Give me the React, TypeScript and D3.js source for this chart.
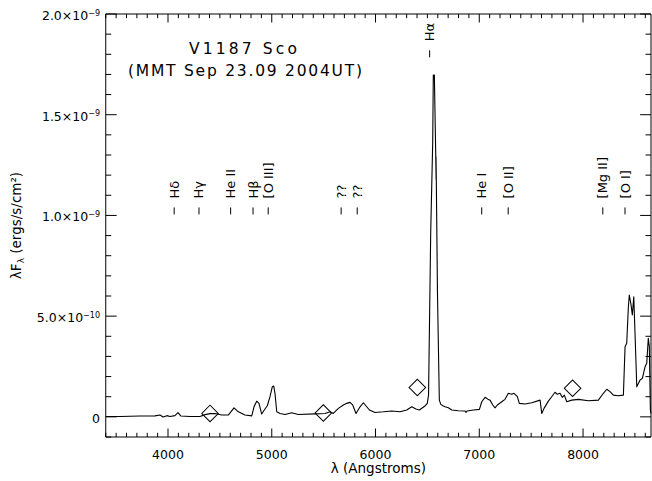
import React from 'react';
import * as d3 from 'd3';

// Spectrum: [wavelength (Angstrom), lambda*F_lambda in units of 1e-10 ergs/s/cm^2]
const SPECTRUM: [number, number][] = [
  [3400, 0.02], [3540, 0.015], [3730, 0.04], [3875, 0.05], [3923, 0.09], [3952, -0.01],
  [3990, 0.06], [4019, 0.015], [4067, 0.06], [4096, 0.21], [4125, 0.04], [4212, 0.015],
  [4308, 0.02], [4357, 0.11], [4405, 0.16], [4453, 0.17], [4518, 0.09], [4581, 0.09],
  [4636, 0.45], [4678, 0.25], [4742, 0.09], [4807, 0.05], [4829, 0.5], [4855, 0.78],
  [4877, 0.67], [4903, 0.14], [4928, 0.34], [4957, 0.55], [4983, 1.0], [5005, 1.49],
  [5019, 1.53], [5031, 1.17], [5048, 0.25], [5080, 0.17], [5128, 0.12], [5192, 0.2],
  [5256, 0.12], [5415, 0.15], [5513, 0.17], [5562, 0.25], [5593, 0.17], [5642, 0.42],
  [5690, 0.59], [5723, 0.67], [5754, 0.72], [5780, 0.59], [5812, 0.17], [5851, 0.5],
  [5883, 0.7], [5909, 0.54], [5941, 0.34], [5995, 0.22], [6075, 0.25], [6156, 0.29],
  [6236, 0.25], [6301, 0.34], [6349, 0.5], [6390, 0.39], [6422, 0.34], [6477, 0.54],
  [6499, 0.67], [6511, 1.08], [6532, 9.19], [6551, 13.6], [6557, 16.97], [6567, 16.97],
  [6580, 13.1], [6584, 11.8], [6583, 12.9], [6586, 11.7], [6597, 6.15], [6615, 0.83],
  [6629, 0.62], [6654, 0.54], [6670, 0.5], [6702, 0.45], [6735, 0.34], [6798, 0.3],
  [6863, 0.29], [6872, 0.22], [6882, 0.29], [6943, 0.34], [7001, 0.37], [7024, 0.75],
  [7056, 0.97], [7082, 0.88], [7104, 0.83], [7130, 0.59], [7152, 0.45], [7174, 0.59],
  [7217, 0.75], [7248, 0.87], [7280, 1.17], [7313, 1.12], [7335, 1.17], [7367, 1.0],
  [7386, 0.67], [7441, 0.64], [7506, 0.7], [7586, 0.83], [7602, 0.17], [7624, 0.42],
  [7666, 0.78], [7698, 1.0], [7730, 1.22], [7752, 1.12], [7778, 1.17], [7800, 0.97],
  [7820, 1.08], [7843, 0.75], [7891, 0.83], [7955, 0.87], [8051, 0.8], [8148, 0.83],
  [8196, 1.17], [8229, 1.37], [8260, 1.25], [8292, 1.08], [8340, 1.05], [8389, 1.08],
  [8405, 3.48], [8421, 3.65], [8437, 5.47], [8446, 6.05], [8463, 5.55], [8475, 5.06],
  [8489, 5.96], [8501, 4.15], [8518, 1.49], [8550, 1.83], [8572, 1.91], [8598, 2.49],
  [8614, 2.66], [8629, 3.9], [8639, 3.48], [8649, 0.34], [8655, 0.17],
];

// Photometry diamonds
const PHOT_WAVE = [4405, 5497, 6403, 7899];
const PHOT_FLUX = [0.17, 0.19, 1.46, 1.42]; // 1e-10

// Line identifications
const LINE_NAMES = ['Hδ', 'Hγ', 'He II', 'Hβ', '[O III]', '??', '??', 'Hα', 'He I', '[O II]', '[Mg II]', '[O I]'];
const LINE_WAVES = [4101, 4340, 4645, 4861, 5007, 5710, 5865, 6563, 7065, 7320, 8232, 8446];
const LINE_LEVEL = [1.0e-9, 1.0e-9, 1.0e-9, 1.0e-9, 1.0e-9, 1.0e-9, 1.0e-9, 1.78e-9, 1.0e-9, 1.0e-9, 1.0e-9, 1.0e-9];

const X_MAJOR = [4000, 5000, 6000, 7000, 8000];
const X_LABELS = ['4000', '5000', '6000', '7000', '8000'];
const Y_MAJOR = [0, 5e-10, 1e-9, 1.5e-9, 2e-9];
const Y_MANT = ['0', '5.0×10', '1.0×10', '1.5×10', '2.0×10'];
const Y_EXP = ['', '−10', '−9', '−9', '−9'];

const TITLE_1 = 'V1187 Sco';
const TITLE_2 = '(MMT Sep 23.09 2004UT)';

export default function App() {
  const W = 652, H = 481;
  const left = 105.75, right = 651, top = 14, bottom = 437;
  const x = d3.scaleLinear().domain([3400, 8655]).range([left, right]);
  const y = d3.scaleLinear().domain([-1e-10, 2e-9]).range([bottom, top]);
  const line = d3.line<[number, number]>().x(d => x(d[0])).y(d => y(d[1] * 1e-10));
  const xMinor = d3.range(3400, 8656, 100).filter(v => v % 1000 !== 0);
  const yMinor = d3.range(-1, 21, 1).map(v => v * 1e-10).filter((v, i) => (i - 1) % 5 !== 0);
  const diamond = d3.symbol().type(d3.symbolSquare).size(137)();
  const font = 'DejaVu Sans, sans-serif';
  const xMaj = 8.5, xMin = 4.2, yMaj = 10.9, yMin = 5.5;

  return (
    <svg width={W} height={H} style={{ position: 'absolute', left: 0, top: 0, background: '#fff' }} fontFamily={font}>
      <rect x={0} y={0} width={W} height={H} fill="#fff" />
      {/* frame */}
      <g stroke="#000" strokeWidth={1} fill="none">
        <line x1={left} x2={right} y1={top} y2={top} />
        <line x1={left} x2={right} y1={bottom} y2={bottom} />
        <line x1={left} x2={left} y1={top} y2={bottom} />
        <line x1={right} x2={right} y1={top} y2={bottom} />
        {X_MAJOR.map(v => (
          <g key={'xm' + v}>
            <line x1={x(v)} x2={x(v)} y1={bottom} y2={bottom - xMaj} />
            <line x1={x(v)} x2={x(v)} y1={top} y2={top + xMaj} />
          </g>
        ))}
        {xMinor.map(v => (
          <g key={'xn' + v}>
            <line x1={x(v)} x2={x(v)} y1={bottom} y2={bottom - xMin} />
            <line x1={x(v)} x2={x(v)} y1={top} y2={top + xMin} />
          </g>
        ))}
        {Y_MAJOR.map(v => (
          <g key={'ym' + v}>
            <line x1={left} x2={left + yMaj} y1={y(v)} y2={y(v)} />
            <line x1={right} x2={right - yMaj} y1={y(v)} y2={y(v)} />
          </g>
        ))}
        {yMinor.map(v => (
          <g key={'yn' + v}>
            <line x1={left} x2={left + yMin} y1={y(v)} y2={y(v)} />
            <line x1={right} x2={right - yMin} y1={y(v)} y2={y(v)} />
          </g>
        ))}
      </g>
      {/* tick labels */}
      <g fontSize={12.5} fill="#000">
        {X_MAJOR.map((v, i) => (
          <text key={'xl' + v} x={x(v)} y={458.5} textAnchor="middle">{X_LABELS[i]}</text>
        ))}
        {Y_MAJOR.map((v, i) => (
          <text key={'yl' + v} x={100} y={y(v) + 6} textAnchor="end">
            <tspan>{Y_MANT[i]}</tspan>
            {Y_EXP[i] && <tspan dy={-4.5} fontSize={8}>{Y_EXP[i]}</tspan>}
          </text>
        ))}
      </g>
      {/* axis titles */}
      <text x={(left + right) / 2} y={473} textAnchor="middle" fontSize={13.5}>λ (Angstroms)</text>
      <text transform={`translate(21,${(top + bottom) / 2}) rotate(-90)`} textAnchor="middle" fontSize={13.5}>
        λF<tspan fontSize={9} dy={3}>λ</tspan><tspan dy={-3}> (ergs/s/cm²)</tspan>
      </text>
      {/* title */}
      <text x={243} y={53.5} textAnchor="middle" fontSize={15.5} textLength={108} lengthAdjust="spacing">{TITLE_1}</text>
      <text x={245} y={76} textAnchor="middle" fontSize={15.5} textLength={234} lengthAdjust="spacing">{TITLE_2}</text>
      {/* line ids */}
      <g fontSize={13} fill="#000">
        {LINE_NAMES.map((n, i) => {
          const lx = x(LINE_WAVES[i]) - 4.3;
          const ly = y(LINE_LEVEL[i]) - 1;
          return (
            <g key={'ln' + i}>
              <line x1={lx} x2={lx} y1={ly} y2={ly - 7} stroke="#000" strokeWidth={1} />
              <text transform={`translate(${lx + 4.5},${ly - 16}) rotate(-90)`}>{n}</text>
            </g>
          );
        })}
      </g>
      {/* spectrum */}
      <path d={line(SPECTRUM) || ''} fill="none" stroke="#000" strokeWidth={1.1} strokeLinejoin="round" />
      {/* photometry */}
      {PHOT_WAVE.map((w, i) => (
        <path key={'ph' + i} d={diamond || ''} transform={`translate(${x(w)},${y(PHOT_FLUX[i] * 1e-10)}) rotate(45)`}
          fill="none" stroke="#000" strokeWidth={1} />
      ))}
    </svg>
  );
}
